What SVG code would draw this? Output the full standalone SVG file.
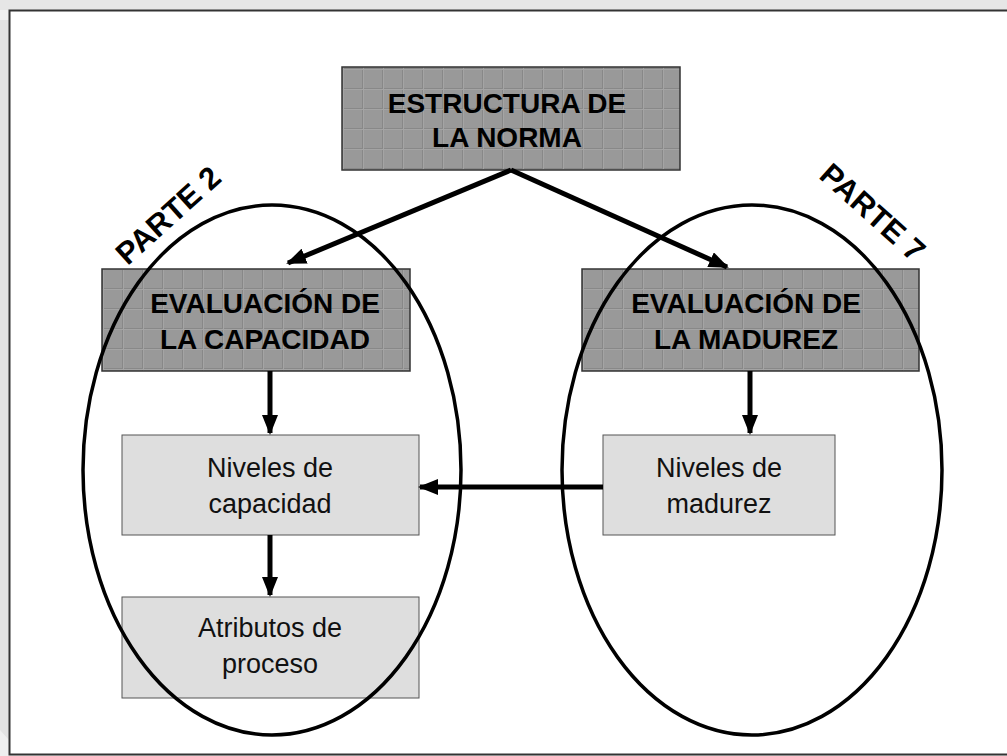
<svg xmlns="http://www.w3.org/2000/svg" width="1007" height="756" viewBox="0 0 1007 756">
<style>
.bold{font-family:"Liberation Sans",Arial,sans-serif;font-weight:bold;font-size:28px;fill:#000;text-anchor:middle}
.part{font-family:"Liberation Sans",Arial,sans-serif;font-weight:bold;font-size:31px;fill:#000;text-anchor:middle}
.reg{font-family:"Liberation Sans",Arial,sans-serif;font-size:27px;fill:#111;text-anchor:middle}
.dark{fill:url(#grid);stroke:#333;stroke-width:1.5}
.light{fill:#dedede;stroke:#555;stroke-width:1}
.ell{fill:none;stroke:#000;stroke-width:3.5}
.conn{stroke:#000;stroke-width:5;fill:none;marker-end:url(#ah)}
</style>
<defs>
<pattern id="grid" patternUnits="userSpaceOnUse" x="2" y="8" width="20" height="20">
<rect width="20" height="20" fill="#999999"/>
<path d="M0,0.5H20M0.5,0V20" stroke="#888888" stroke-width="1"/>
<path d="M0,1.5H20M1.5,0V20" stroke="#a4a4a4" stroke-width="1"/>
</pattern>
<marker id="ah" markerUnits="userSpaceOnUse" markerWidth="20" markerHeight="16" refX="18" refY="8" orient="auto">
<path d="M0,0L20,8L0,16z" fill="#000"/>
</marker>
</defs>
<rect width="1007" height="756" fill="#efefef"/>
<rect x="0" y="0" width="1007" height="10" fill="#e6e6e6"/>
<polygon points="0,20 9,20 9,740 0,730" fill="#e2e2e2"/>
<rect x="9.5" y="10.5" width="1000" height="744" fill="#fff" stroke="#333" stroke-width="2"/>

<g id="n-estructura">
<rect class="dark" x="342" y="67" width="338" height="103"/>
<text class="bold" x="507" y="113">ESTRUCTURA DE</text>
<text class="bold" x="507" y="147">LA NORMA</text>
</g>
<g id="n-eval-capacidad">
<rect class="dark" x="102" y="269" width="308" height="102"/>
<text class="bold" x="265" y="313">EVALUACIÓN DE</text>
<text class="bold" x="265" y="349">LA CAPACIDAD</text>
</g>
<g id="n-eval-madurez">
<rect class="dark" x="582" y="269" width="337" height="102"/>
<text class="bold" x="746" y="313">EVALUACIÓN DE</text>
<text class="bold" x="746" y="349">LA MADUREZ</text>
</g>
<g id="n-niveles-capacidad">
<rect class="light" x="122" y="435" width="297" height="100"/>
<text class="reg" x="270" y="477">Niveles de</text>
<text class="reg" x="270" y="513">capacidad</text>
</g>
<g id="n-niveles-madurez">
<rect class="light" x="603" y="435" width="232" height="100"/>
<text class="reg" x="719" y="477">Niveles de</text>
<text class="reg" x="719" y="513">madurez</text>
</g>
<g id="n-atributos">
<rect class="light" x="122" y="597" width="297" height="101"/>
<text class="reg" x="270" y="637">Atributos de</text>
<text class="reg" x="270" y="673">proceso</text>
</g>

<g id="n-parte2">
<ellipse class="ell" cx="272" cy="470" rx="189" ry="265"/>
<text class="part" transform="translate(168,215) rotate(-42)" dy="11">PARTE 2</text>
</g>
<g id="n-parte7">
<ellipse class="ell" cx="752" cy="470" rx="190" ry="265"/>
<text class="part" transform="translate(873,212) rotate(42)" dy="11">PARTE 7</text>
</g>

<g id="connectors">
<line class="conn" x1="511" y1="170" x2="288" y2="263"/>
<line class="conn" x1="511" y1="170" x2="727" y2="267"/>
<line class="conn" x1="270" y1="371" x2="270" y2="433"/>
<line class="conn" x1="750" y1="371" x2="750" y2="433"/>
<line class="conn" x1="270" y1="535" x2="270" y2="595"/>
<line class="conn" x1="603" y1="487" x2="420" y2="487"/>
</g>
</svg>
